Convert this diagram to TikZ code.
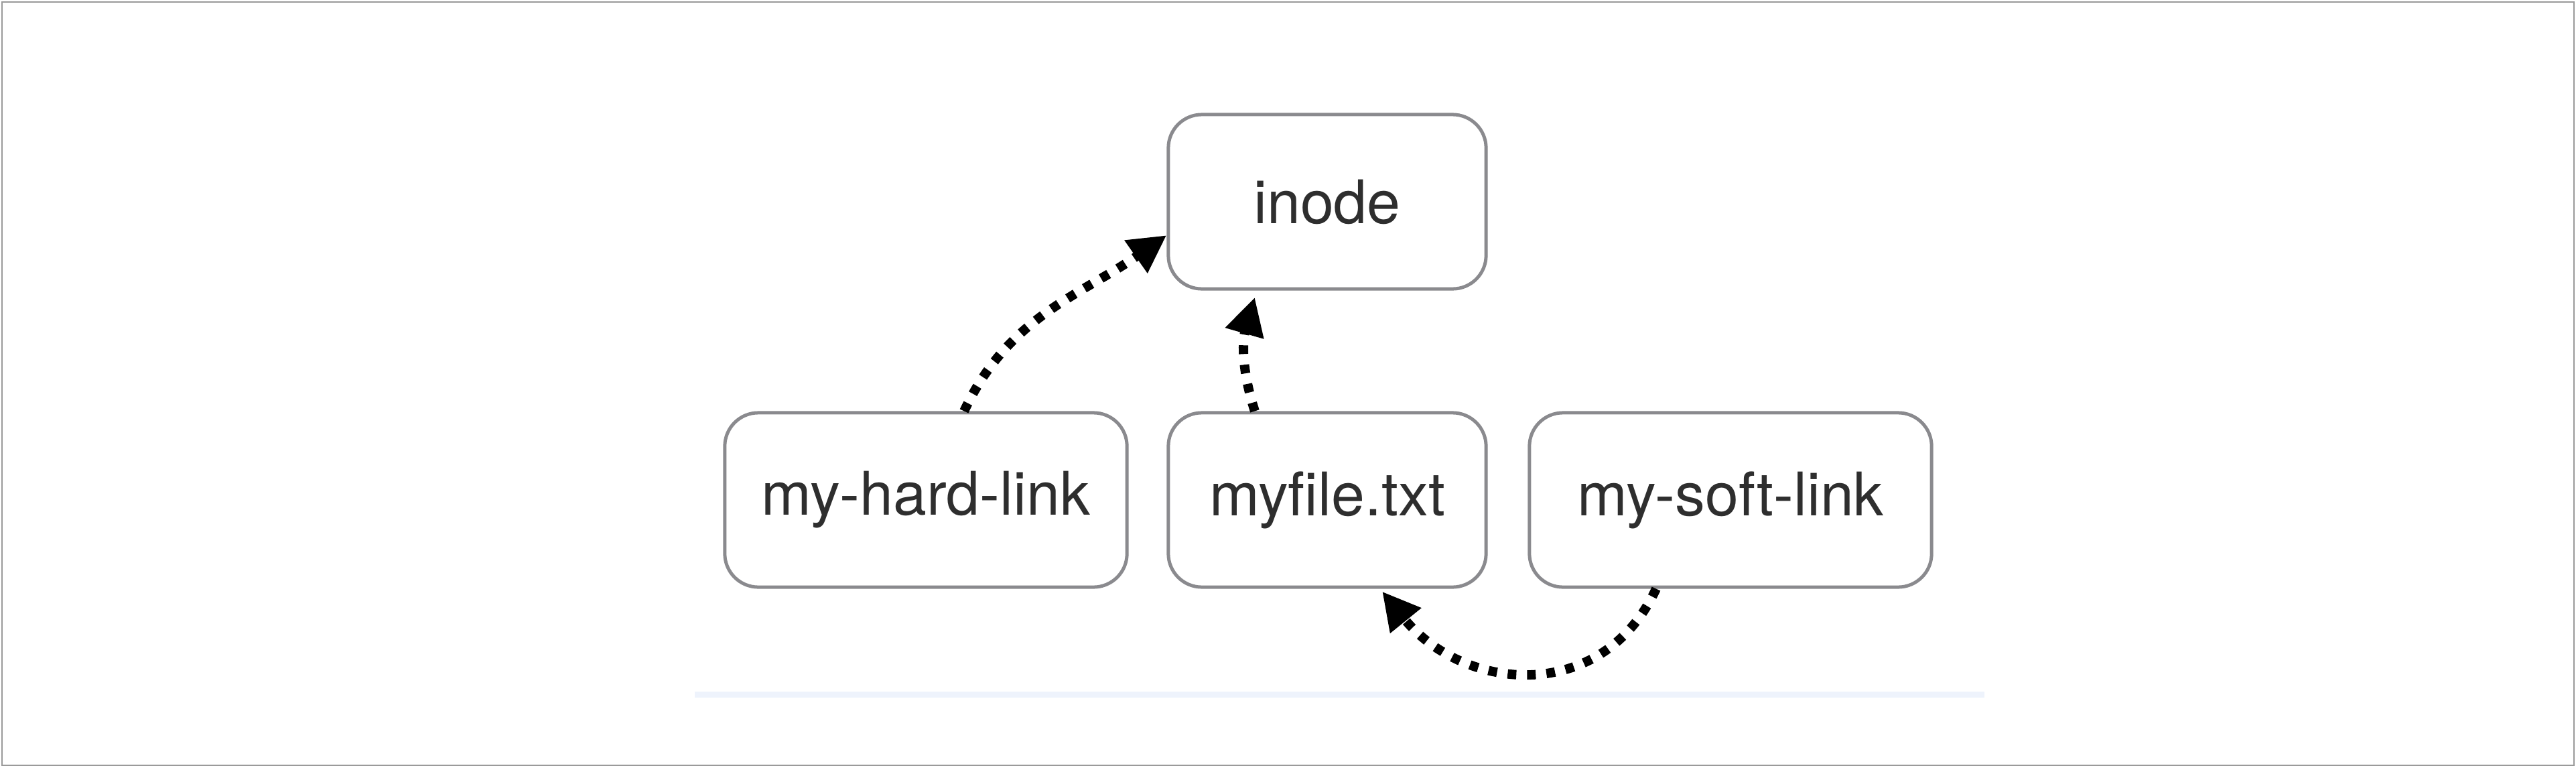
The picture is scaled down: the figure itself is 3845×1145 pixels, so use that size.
\documentclass[tikz,border=0pt]{standalone}
\usepackage{fontspec}
\setmainfont{TeX Gyre Heros}
\usetikzlibrary{arrows.meta}
\definecolor{boxgray}{HTML}{8A8A8E}
\definecolor{framegray}{HTML}{9A9A9A}
\definecolor{textgray}{HTML}{2E2E2E}
\definecolor{rulecolor}{HTML}{EEF3FC}

\begin{document}
\begin{tikzpicture}[x=0.01cm,y=-0.01cm,
 box/.style={draw=boxgray,line width=0.05cm,rounded corners=0.5cm,minimum height=2.6cm,text=textgray,font=\fontsize{25.5}{30}\selectfont},
 link/.style={line width=0.14cm,dash pattern=on 0.13cm off 0.16cm,-{Triangle[length=0.56cm,width=0.56cm]}}]
\useasboundingbox (0,0) rectangle (3845,1145);
\draw[framegray,line width=0.02cm] (3,3) rectangle (3842,1142);
\node [box,minimum width=4.74cm] (inode) at (1981,301) {inode};
\node [box,minimum width=6cm] (hard) at (1382,746) {my-hard-link};
\node [box,minimum width=4.74cm] (file) at (1981,746) {myfile.txt};
\node [box,minimum width=6cm] (soft) at (2583,746) {my-soft-link};
\fill[rulecolor] (1037,1032) rectangle (2962,1041);
\draw[link] ([xshift=0.57cm]hard.north) to[out=65,in=215] ([yshift=-0.5cm]inode.west);
\draw[link] ([xshift=-1.08cm]file.north) to[out=108,in=-106] ([xshift=-1.08cm,yshift=-0.1cm]inode.south);
\draw[link] ([xshift=-1.11cm]soft.south) to[out=-115,in=-51,looseness=1.2] ([xshift=0.82cm,yshift=-0.04cm]file.south);
\end{tikzpicture}
\end{document}
